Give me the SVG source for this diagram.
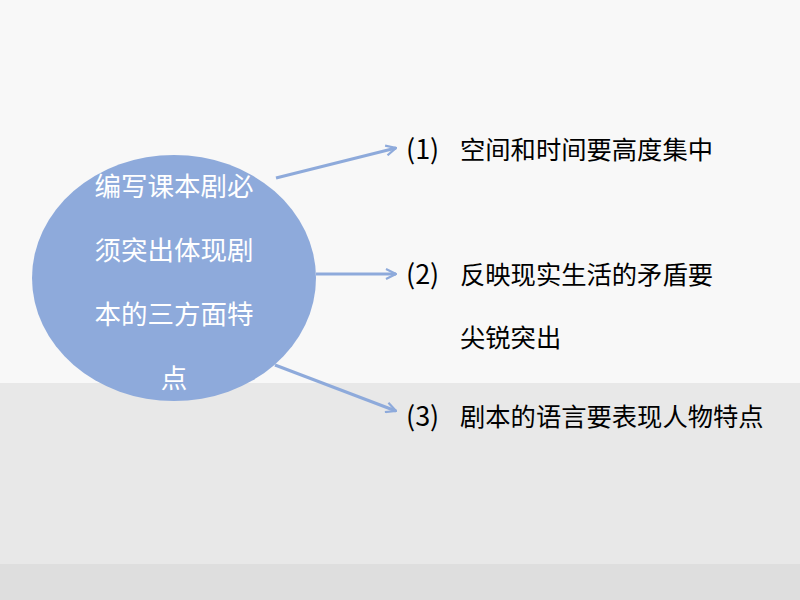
<svg xmlns="http://www.w3.org/2000/svg" width="800" height="600" viewBox="0 0 800 600">
<defs>
<style>
.ctext{font-family:"Noto Sans CJK SC","Noto Sans",sans-serif;font-size:26.5px;fill:#ffffff;text-anchor:middle}
.itext{font-family:"Noto Sans CJK SC","Noto Sans",sans-serif;font-size:25.3px;fill:#000000}
.par{font-size:27px}
.conn{stroke:#8eaadb;stroke-width:3;fill:none}
</style>
<marker id="arr" viewBox="0 0 12 12" refX="11" refY="6" markerWidth="12" markerHeight="12" markerUnits="userSpaceOnUse" orient="auto">
<path d="M1,1 L11,6 L1,11" fill="none" stroke="#8eaadb" stroke-width="2.2"/>
</marker>
</defs>
<rect x="0" y="0" width="800" height="383" fill="#f8f8f8"/>
<rect x="0" y="383" width="800" height="181" fill="#e8e8e8"/>
<rect x="0" y="564" width="800" height="36" fill="#dedede"/>
<g id="connectors">
<line class="conn" x1="276" y1="178" x2="396" y2="148" marker-end="url(#arr)"/>
<line class="conn" x1="316" y1="274" x2="396" y2="274" marker-end="url(#arr)"/>
<line class="conn" x1="275" y1="365" x2="396" y2="411" marker-end="url(#arr)"/>
</g>
<g id="center">
<ellipse cx="174" cy="278" rx="142" ry="123" fill="#8eaadb"/>
<text class="ctext" x="174" y="196">编写课本剧必</text>
<text class="ctext" x="174" y="260">须突出体现剧</text>
<text class="ctext" x="174" y="324">本的三方面特</text>
<text class="ctext" x="174" y="388">点</text>
</g>
<g id="item1">
<text class="itext" x="406" y="159"><tspan class="par">(1)</tspan><tspan x="460">空间和时间要高度集中</tspan></text>
</g>
<g id="item2">
<text class="itext" x="406" y="284"><tspan class="par">(2)</tspan><tspan x="460">反映现实生活的矛盾要</tspan></text>
<text class="itext" x="460" y="347">尖锐突出</text>
</g>
<g id="item3">
<text class="itext" x="406" y="426"><tspan class="par">(3)</tspan><tspan x="460">剧本的语言要表现人物特点</tspan></text>
</g>
</svg>
